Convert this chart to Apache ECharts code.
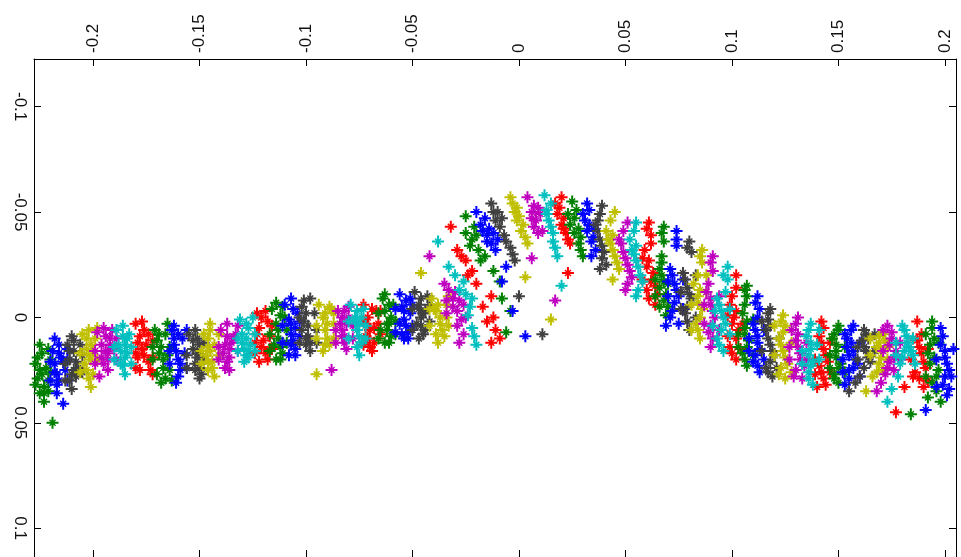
<!DOCTYPE html>
<html>
<head>
<meta charset="utf-8">
<script src="https://cdn.jsdelivr.net/npm/echarts@6/dist/echarts.min.js"></script>
<style>
  html, body { margin: 0; padding: 0; background: #fff; }
  #chart { width: 961px; height: 557px; }
</style>
</head>
<body>
<div id="chart"></div>
<script>
// axis ticks / visible range
var xTicks = [-0.2, -0.15, -0.1, -0.05, 0, 0.05, 0.1, 0.15, 0.2];
var yTicks = [-0.1, -0.05, 0, 0.05, 0.1];
var xRange = [-0.2277, 0.2052];
var yRange = [-0.1226, 0.1137];

// points, one list per colour (cluster by cluster)
var redPts = [
  [-0.180,0.003],[-0.178,0.009],[-0.177,0.015],[-0.176,0.006],[-0.174,0.021],[-0.178,0.025],[-0.173,0.025],[-0.177,0.002],[-0.175,0.013],
  [-0.176,0.018],[-0.179,0.012],[-0.174,0.008],[-0.172,0.027],[-0.179,0.019],
  [-0.180,0.017],[-0.172,0.011],[-0.172,0.019],[-0.180,0.024],
  [-0.123,-0.002],[-0.122,0.005],[-0.120,0.011],[-0.119,0.017],[-0.118,0.002],[-0.122,0.021],[-0.119,-0.003],[-0.117,0.009],
  [-0.121,0.014],[-0.118,0.020],[-0.121,0.000],[-0.117,0.015],[-0.123,0.008],
  [-0.124,0.012],[-0.116,0.004],[-0.116,0.015],[-0.124,0.017],
  [-0.073,-0.006],[-0.071,0.000],[-0.070,0.006],[-0.068,0.012],[-0.067,-0.003],[-0.070,0.014],[-0.066,0.003],[-0.072,0.009],
  [-0.069,-0.004],[-0.071,0.010],[-0.068,0.005],[-0.072,0.003],[-0.069,0.016],
  [-0.073,0.002],[-0.065,0.008],[-0.065,-0.003],[-0.073,0.013],
  [-0.032,-0.043],[-0.029,-0.032],[-0.025,-0.027],[-0.022,-0.022],[-0.020,-0.016],[-0.013,-0.010],[-0.015,0.002],[-0.011,0.006],[-0.009,0.010],[-0.027,-0.029],
  [-0.017,-0.005],[-0.012,0.000],[-0.024,-0.020],[-0.013,0.012],
  [0.020,-0.057],[0.018,-0.049],[0.020,-0.044],[0.022,-0.040],[0.024,-0.035],[0.023,-0.021],[0.017,-0.054],
  [0.019,-0.052],[0.021,-0.047],[0.023,-0.037],[0.021,-0.042],
  [0.061,-0.045],[0.062,-0.039],[0.059,-0.032],[0.061,-0.027],[0.063,-0.021],[0.060,-0.013],[0.064,-0.006],
  [0.060,-0.042],[0.062,-0.035],[0.060,-0.024],[0.062,-0.017],[0.061,-0.009],
  [0.058,-0.028],[0.064,-0.015],[0.058,-0.018],[0.065,-0.011],
  [0.102,-0.020],[0.102,-0.014],[0.099,-0.006],[0.101,0.000],[0.103,0.006],[0.099,0.014],[0.102,0.020],
  [0.100,-0.010],[0.102,-0.003],[0.100,0.003],[0.102,0.010],[0.100,0.017],
  [0.098,-0.001],[0.105,0.003],[0.098,0.009],[0.104,0.015],
  [0.143,0.005],[0.141,0.009],[0.143,0.015],[0.145,0.021],[0.142,0.026],[0.144,0.032],[0.140,0.033],
  [0.142,0.012],[0.144,0.018],[0.141,0.023],[0.143,0.029],[0.142,0.002],
  [0.139,0.020],[0.146,0.012],[0.139,0.027],[0.146,0.026],
  [0.187,0.002],[0.187,0.011],[0.189,0.017],[0.191,0.024],[0.188,0.029],[0.190,0.033],[0.177,0.045],[0.184,0.020],
  [0.188,0.014],[0.190,0.021],[0.186,0.026],[0.189,0.008],[0.181,0.033],
  [0.185,0.010],[0.192,0.015],[0.185,0.028],[0.192,0.030]
];
var greenPts = [
  [-0.227,0.022],[-0.226,0.029],[-0.225,0.025],[-0.224,0.017],[-0.223,0.033],[-0.222,0.024],[-0.221,0.015],[-0.225,0.036],[-0.223,0.040],[-0.219,0.050],[-0.227,0.032],[-0.220,0.020],[-0.225,0.013],
  [-0.224,0.027],[-0.226,0.019],[-0.221,0.030],[-0.223,0.036],
  [-0.228,0.028],[-0.220,0.026],[-0.228,0.018],[-0.221,0.035],
  [-0.171,0.006],[-0.170,0.011],[-0.169,0.017],[-0.167,0.024],[-0.166,0.008],[-0.170,0.027],[-0.166,0.029],[-0.164,0.025],[-0.165,0.003],
  [-0.168,0.014],[-0.167,0.020],[-0.169,0.008],[-0.168,0.031],[-0.165,0.018],
  [-0.172,0.020],[-0.164,0.014],[-0.172,0.014],[-0.163,0.030],
  [-0.116,-0.004],[-0.114,0.003],[-0.113,0.010],[-0.111,0.017],[-0.110,0.000],[-0.114,0.020],[-0.111,-0.005],[-0.112,0.014],
  [-0.113,0.006],[-0.112,-0.001],[-0.115,0.013],[-0.112,0.020],[-0.114,-0.007],
  [-0.117,0.008],[-0.109,0.006],[-0.117,0.016],[-0.109,0.012],
  [-0.064,-0.009],[-0.063,-0.003],[-0.062,0.003],[-0.060,0.009],[-0.059,-0.006],[-0.063,0.012],[-0.060,0.000],[-0.065,0.006],
  [-0.061,-0.006],[-0.062,0.006],[-0.061,0.012],[-0.063,-0.011],[-0.061,0.003],
  [-0.066,-0.002],[-0.058,0.002],[-0.066,0.010],[-0.058,0.008],
  [-0.025,-0.048],[-0.025,-0.040],[-0.022,-0.037],[-0.019,-0.032],[-0.016,-0.029],[-0.009,-0.017],[-0.008,-0.009],[-0.006,0.007],[-0.021,-0.043],[-0.018,-0.027],
  [-0.023,-0.034],[-0.020,-0.039],[-0.012,-0.022],[-0.004,-0.003],
  [0.025,-0.055],[0.024,-0.044],[0.026,-0.040],[0.028,-0.035],[0.030,-0.029],[0.023,-0.049],[0.028,-0.042],
  [0.026,-0.047],[0.027,-0.051],[0.029,-0.038],[0.029,-0.032],
  [0.068,-0.043],[0.068,-0.036],[0.066,-0.023],[0.068,-0.017],[0.069,-0.011],[0.066,-0.005],[0.069,-0.001],[0.067,-0.029],
  [0.067,-0.040],[0.067,-0.020],[0.066,-0.014],[0.068,-0.008],[0.067,-0.026],
  [0.064,-0.018],[0.070,-0.016],[0.064,-0.010],[0.070,-0.005],
  [0.107,-0.015],[0.107,-0.010],[0.105,-0.002],[0.106,0.005],[0.108,0.011],[0.105,0.017],[0.107,0.023],
  [0.106,-0.013],[0.106,-0.006],[0.107,0.002],[0.106,0.008],[0.107,0.014],[0.106,0.020],
  [0.103,0.008],[0.110,0.001],[0.103,0.014],[0.110,0.018],
  [0.150,0.006],[0.147,0.010],[0.149,0.016],[0.151,0.022],[0.148,0.027],[0.150,0.031],[0.149,0.013],
  [0.148,0.008],[0.149,0.019],[0.150,0.024],[0.148,0.029],[0.150,0.004],
  [0.146,0.018],[0.153,0.014],[0.146,0.024],[0.153,0.026],
  [0.194,0.002],[0.193,0.013],[0.195,0.019],[0.197,0.025],[0.194,0.031],[0.196,0.035],[0.184,0.046],[0.192,0.017],
  [0.195,0.010],[0.193,0.022],[0.196,0.028],[0.194,0.005],[0.192,0.038],
  [0.191,0.028],[0.198,0.040],[0.191,0.008],[0.197,0.012]
];
var bluePts = [
  [-0.219,0.016],[-0.218,0.022],[-0.217,0.027],[-0.216,0.013],[-0.215,0.019],[-0.213,0.025],[-0.217,0.032],[-0.217,0.036],[-0.214,0.041],[-0.212,0.015],[-0.218,0.010],
  [-0.216,0.017],[-0.218,0.026],[-0.214,0.021],[-0.216,0.030],
  [-0.220,0.021],[-0.212,0.020],[-0.220,0.030],[-0.212,0.030],
  [-0.163,0.006],[-0.162,0.013],[-0.160,0.020],[-0.159,0.025],[-0.158,0.010],[-0.161,0.031],[-0.157,0.017],[-0.162,0.004],
  [-0.160,0.008],[-0.161,0.016],[-0.159,0.022],[-0.160,0.028],[-0.162,0.010],
  [-0.164,0.016],[-0.156,0.024],[-0.164,0.022],[-0.156,0.006],
  [-0.110,-0.006],[-0.108,0.001],[-0.107,0.008],[-0.105,0.015],[-0.104,-0.002],[-0.108,0.018],[-0.107,-0.009],[-0.105,0.005],
  [-0.106,-0.004],[-0.107,0.003],[-0.106,0.011],[-0.107,0.013],[-0.105,0.018],
  [-0.111,0.004],[-0.103,0.009],[-0.111,0.012],[-0.103,0.002],
  [-0.056,-0.011],[-0.055,-0.005],[-0.054,0.001],[-0.052,0.007],[-0.051,-0.009],[-0.054,0.010],[-0.051,-0.002],[-0.056,0.003],
  [-0.053,-0.008],[-0.054,-0.003],[-0.053,0.004],[-0.055,0.008],[-0.052,0.010],
  [-0.058,-0.004],[-0.050,0.004],[-0.058,0.007],[-0.050,-0.006],
  [-0.020,-0.050],[-0.018,-0.044],[-0.015,-0.039],[-0.013,-0.035],[-0.010,-0.037],[-0.006,-0.024],[-0.008,-0.017],[-0.003,-0.003],[0.003,0.009],[-0.016,-0.047],[-0.014,-0.042],
  [-0.017,-0.041],[-0.012,-0.040],[-0.011,-0.032],[-0.015,-0.036],
  [0.032,-0.054],[0.030,-0.049],[0.033,-0.044],[0.035,-0.038],[0.036,-0.032],[0.034,-0.029],[0.032,-0.041],
  [0.031,-0.046],[0.034,-0.036],[0.033,-0.051],[0.035,-0.042],
  [0.074,-0.041],[0.074,-0.034],[0.071,-0.023],[0.073,-0.016],[0.075,-0.010],[0.072,-0.003],[0.069,0.004],[0.075,0.003],
  [0.074,-0.037],[0.072,-0.020],[0.074,-0.013],[0.073,-0.007],[0.071,0.000],
  [0.070,-0.010],[0.077,-0.018],[0.070,-0.017],[0.077,-0.004],
  [0.112,-0.010],[0.113,-0.004],[0.110,0.003],[0.112,0.009],[0.113,0.015],[0.110,0.021],[0.113,0.026],
  [0.111,-0.007],[0.112,0.000],[0.111,0.006],[0.112,0.012],[0.111,0.018],[0.112,0.023],
  [0.108,0.010],[0.115,0.006],[0.108,0.016],[0.115,0.020],
  [0.156,0.006],[0.154,0.010],[0.157,0.016],[0.159,0.022],[0.155,0.025],[0.158,0.020],[0.153,0.008],[0.155,0.029],[0.153,0.032],
  [0.156,0.012],[0.155,0.018],[0.157,0.024],[0.154,0.014],[0.157,0.004],
  [0.152,0.020],[0.160,0.012],[0.152,0.026],[0.160,0.028],
  [0.198,0.005],[0.198,0.013],[0.200,0.019],[0.202,0.025],[0.199,0.032],[0.201,0.037],[0.191,0.044],[0.204,0.015],
  [0.199,0.009],[0.200,0.016],[0.201,0.022],[0.200,0.028],[0.202,0.034],
  [0.196,0.020],[0.203,0.028],[0.196,0.033]
];
var grayPts = [
  [-0.212,0.013],[-0.211,0.020],[-0.210,0.009],[-0.209,0.016],[-0.207,0.024],[-0.210,0.027],[-0.208,0.028],[-0.210,0.034],[-0.206,0.013],
  [-0.209,0.011],[-0.211,0.016],[-0.208,0.021],[-0.209,0.025],[-0.211,0.030],
  [-0.213,0.022],[-0.205,0.018],[-0.213,0.030],[-0.205,0.026],
  [-0.155,0.008],[-0.153,0.015],[-0.152,0.022],[-0.150,0.013],[-0.149,0.027],[-0.152,0.006],[-0.151,0.017],[-0.150,0.024],
  [-0.153,0.011],[-0.151,0.019],[-0.151,0.010],[-0.152,0.025],[-0.150,0.029],
  [-0.156,0.018],[-0.148,0.012],[-0.156,0.024],[-0.148,0.020],
  [-0.102,-0.005],[-0.101,0.002],[-0.099,0.009],[-0.098,0.016],[-0.096,-0.002],[-0.100,0.013],[-0.098,-0.009],[-0.102,0.006],
  [-0.100,-0.002],[-0.099,0.004],[-0.100,0.010],[-0.098,0.012],[-0.101,-0.008],
  [-0.103,0.012],[-0.095,0.006],[-0.103,0.000],[-0.095,0.012],
  [-0.049,-0.012],[-0.047,-0.006],[-0.046,0.000],[-0.044,0.006],[-0.043,-0.010],[-0.047,0.010],[-0.044,-0.003],[-0.048,0.003],
  [-0.046,-0.009],[-0.045,-0.002],[-0.046,0.004],[-0.045,0.008],[-0.047,-0.004],
  [-0.050,-0.004],[-0.042,0.002],[-0.050,0.006],[-0.042,-0.006],
  [-0.013,-0.054],[-0.010,-0.050],[-0.009,-0.043],[-0.007,-0.039],[-0.004,-0.033],[-0.002,-0.027],[0.000,-0.010],[0.011,0.008],[-0.011,-0.046],
  [-0.012,-0.050],[-0.008,-0.047],[-0.006,-0.036],[-0.003,-0.030],
  [0.039,-0.053],[0.036,-0.044],[0.038,-0.037],[0.040,-0.031],[0.041,-0.025],[0.038,-0.023],[0.037,-0.041],
  [0.038,-0.049],[0.039,-0.034],[0.039,-0.028],[0.037,-0.046],
  [0.080,-0.036],[0.081,-0.031],[0.077,-0.021],[0.079,-0.014],[0.081,-0.009],[0.078,-0.002],[0.080,0.006],
  [0.079,-0.033],[0.078,-0.018],[0.080,-0.011],[0.079,-0.005],[0.079,0.002],
  [0.076,-0.012],[0.083,-0.020],[0.076,-0.004],[0.083,0.000],
  [0.118,-0.004],[0.117,0.001],[0.116,0.006],[0.118,0.013],[0.120,0.018],[0.116,0.024],[0.119,0.028],
  [0.117,-0.002],[0.118,0.004],[0.117,0.010],[0.119,0.016],[0.118,0.021],[0.117,0.026],
  [0.114,0.016],[0.122,0.010],[0.114,0.002],[0.121,0.024],
  [0.162,0.006],[0.161,0.011],[0.163,0.016],[0.165,0.021],[0.162,0.024],[0.155,0.035],[0.164,0.010],
  [0.163,0.008],[0.162,0.014],[0.164,0.019],[0.160,0.028],[0.158,0.031],
  [0.159,0.014],[0.167,0.016],[0.159,0.020],[0.167,0.008]
];
var yellowPts = [
  [-0.205,0.008],[-0.203,0.015],[-0.202,0.006],[-0.201,0.013],[-0.201,0.020],[-0.204,0.022],[-0.200,0.027],[-0.201,0.033],[-0.199,0.010],
  [-0.203,0.010],[-0.202,0.018],[-0.203,0.025],[-0.200,0.016],[-0.202,0.029],
  [-0.206,0.017],[-0.198,0.020],[-0.206,0.026],[-0.198,0.005],
  [-0.148,0.008],[-0.146,0.014],[-0.145,0.006],[-0.144,0.021],[-0.143,0.013],[-0.146,0.025],[-0.143,0.028],[-0.147,0.018],
  [-0.146,0.010],[-0.145,0.016],[-0.144,0.024],[-0.146,0.021],[-0.145,0.003],
  [-0.149,0.016],[-0.141,0.018],[-0.149,0.022],[-0.141,0.008],
  [-0.094,-0.006],[-0.092,0.000],[-0.091,0.006],[-0.089,0.013],[-0.088,-0.004],[-0.092,0.016],[-0.095,0.027],[-0.087,0.003],
  [-0.091,-0.002],[-0.090,0.003],[-0.090,0.010],[-0.091,0.013],[-0.089,-0.005],
  [-0.095,0.004],[-0.087,0.010],[-0.095,0.010],[-0.087,-0.002],
  [-0.041,-0.009],[-0.039,-0.003],[-0.037,0.003],[-0.035,0.009],[-0.034,-0.006],[-0.038,0.012],[-0.034,0.000],[-0.046,-0.021],
  [-0.038,-0.006],[-0.037,0.000],[-0.036,0.006],[-0.039,0.008],[-0.040,-0.004],
  [-0.042,0.004],[-0.033,0.004],[-0.042,-0.004],[-0.033,-0.010],
  [-0.004,-0.057],[-0.002,-0.050],[-0.001,-0.046],[0.001,-0.041],[0.004,-0.035],[0.003,-0.019],[0.015,0.001],[-0.003,-0.054],
  [0.000,-0.048],[-0.001,-0.052],[0.002,-0.044],[0.003,-0.038],
  [0.045,-0.050],[0.041,-0.041],[0.043,-0.035],[0.045,-0.029],[0.047,-0.023],[0.044,-0.018],[0.042,-0.037],
  [0.043,-0.046],[0.044,-0.032],[0.046,-0.026],[0.044,-0.039],
  [0.086,-0.032],[0.086,-0.026],[0.082,-0.016],[0.084,-0.010],[0.086,-0.004],[0.083,0.003],[0.085,0.010],
  [0.085,-0.029],[0.084,-0.020],[0.085,-0.013],[0.084,-0.007],[0.085,0.000],[0.084,0.006],
  [0.081,-0.006],[0.088,-0.012],[0.081,0.006],[0.088,-0.020],
  [0.124,-0.001],[0.125,0.004],[0.122,0.010],[0.124,0.016],[0.126,0.022],[0.122,0.027],[0.125,0.029],
  [0.123,0.002],[0.124,0.007],[0.123,0.013],[0.125,0.019],[0.123,0.024],
  [0.120,0.018],[0.128,0.012],[0.120,0.004],[0.128,0.026],
  [0.169,0.009],[0.168,0.014],[0.170,0.019],[0.171,0.025],[0.168,0.026],[0.163,0.035],[0.172,0.011],
  [0.169,0.012],[0.170,0.016],[0.169,0.022],[0.166,0.028],[0.171,0.008],
  [0.165,0.018],[0.173,0.020],[0.165,0.010],[0.173,0.014]
];
var magentaPts = [
  [-0.198,0.007],[-0.196,0.013],[-0.195,0.005],[-0.193,0.017],[-0.192,0.010],[-0.195,0.022],[-0.191,0.006],[-0.193,0.025],[-0.197,0.028],[-0.190,0.015],
  [-0.194,0.009],[-0.194,0.016],[-0.193,0.020],[-0.196,0.019],[-0.192,0.013],
  [-0.199,0.016],[-0.189,0.010],[-0.199,0.022],[-0.189,0.020],
  [-0.140,0.006],[-0.138,0.013],[-0.137,0.003],[-0.136,0.019],[-0.134,0.010],[-0.138,0.024],[-0.136,0.025],[-0.133,0.008],
  [-0.137,0.009],[-0.136,0.015],[-0.137,0.021],[-0.135,0.012],[-0.139,0.017],
  [-0.141,0.014],[-0.132,0.016],[-0.141,0.020],[-0.132,0.004],
  [-0.085,-0.003],[-0.084,0.003],[-0.082,0.009],[-0.081,0.015],[-0.080,0.000],[-0.088,0.025],[-0.083,0.006],[-0.080,-0.005],
  [-0.083,0.000],[-0.082,0.012],[-0.081,0.003],[-0.083,0.009],[-0.082,-0.003],
  [-0.086,0.006],[-0.078,0.004],[-0.086,0.012],[-0.078,0.010],
  [-0.033,-0.013],[-0.031,-0.009],[-0.029,-0.003],[-0.027,0.001],[-0.028,0.012],[-0.042,-0.029],[-0.026,-0.006],[-0.035,-0.016],
  [-0.030,-0.012],[-0.031,-0.005],[-0.028,-0.008],[-0.029,0.004],
  [-0.034,-0.008],[-0.025,0.000],[-0.034,-0.002],[-0.026,0.008],
  [0.004,-0.057],[0.006,-0.050],[0.008,-0.046],[0.011,-0.041],[0.006,-0.028],[0.017,-0.008],[0.010,-0.049],[0.007,-0.043],
  [0.007,-0.053],[0.009,-0.040],[0.009,-0.052],[0.006,-0.047],
  [0.051,-0.045],[0.047,-0.037],[0.049,-0.031],[0.051,-0.025],[0.053,-0.019],[0.050,-0.013],[0.048,-0.035],
  [0.049,-0.041],[0.050,-0.028],[0.052,-0.022],[0.051,-0.016],
  [0.091,-0.029],[0.091,-0.022],[0.088,-0.012],[0.090,-0.006],[0.092,0.000],[0.089,0.007],[0.090,0.014],
  [0.090,-0.026],[0.089,-0.016],[0.090,-0.009],[0.091,-0.003],[0.090,0.004],[0.091,0.010],
  [0.087,-0.006],[0.094,-0.010],[0.087,0.003],[0.094,0.006],
  [0.131,0.000],[0.128,0.006],[0.130,0.011],[0.132,0.017],[0.134,0.023],[0.129,0.028],[0.133,0.029],
  [0.130,0.003],[0.131,0.008],[0.131,0.014],[0.132,0.020],[0.130,0.025],
  [0.127,0.014],[0.135,0.012],[0.127,0.020],[0.135,0.020],
  [0.173,0.004],[0.175,0.010],[0.177,0.016],[0.174,0.021],[0.176,0.025],[0.168,0.035],[0.172,0.027],
  [0.175,0.007],[0.174,0.013],[0.176,0.019],[0.173,0.024],[0.170,0.031],
  [0.171,0.016],[0.179,0.012],[0.171,0.006],[0.179,0.020]
];
var cyanPts = [
  [-0.189,0.006],[-0.188,0.013],[-0.186,0.004],[-0.185,0.019],[-0.184,0.010],[-0.187,0.022],[-0.185,0.027],[-0.183,0.008],
  [-0.186,0.009],[-0.187,0.016],[-0.185,0.013],[-0.186,0.023],[-0.184,0.017],
  [-0.190,0.014],[-0.182,0.014],[-0.190,0.020],[-0.182,0.022],
  [-0.131,0.001],[-0.130,0.008],[-0.129,0.015],[-0.127,0.005],[-0.126,0.013],[-0.129,0.021],[-0.125,0.000],[-0.128,0.018],
  [-0.128,0.003],[-0.128,0.010],[-0.127,0.016],[-0.130,0.012],[-0.127,0.019],
  [-0.132,0.010],[-0.124,0.008],[-0.132,0.016],[-0.124,0.016],
  [-0.079,-0.006],[-0.077,0.000],[-0.076,0.006],[-0.074,0.012],[-0.073,-0.004],[-0.075,0.018],[-0.077,0.002],
  [-0.076,-0.003],[-0.075,0.003],[-0.075,0.009],[-0.076,0.014],[-0.074,0.000],
  [-0.080,0.002],[-0.072,0.004],[-0.080,0.010],[-0.072,0.010],
  [-0.038,-0.036],[-0.033,-0.024],[-0.026,-0.017],[-0.025,-0.011],[-0.023,-0.005],[-0.020,0.013],[-0.028,-0.013],[-0.022,-0.009],
  [-0.030,-0.020],[-0.024,-0.001],[-0.022,0.005],[-0.021,0.009],
  [0.012,-0.058],[0.013,-0.051],[0.014,-0.046],[0.016,-0.040],[0.017,-0.033],[0.020,-0.015],[0.013,-0.049],
  [0.015,-0.043],[0.015,-0.054],[0.016,-0.036],[0.018,-0.029],
  [0.055,-0.045],[0.052,-0.037],[0.054,-0.030],[0.056,-0.024],[0.058,-0.017],[0.055,-0.010],[0.053,-0.032],
  [0.054,-0.041],[0.055,-0.034],[0.055,-0.027],[0.057,-0.020],[0.056,-0.013],
  [0.098,-0.024],[0.098,-0.018],[0.093,-0.009],[0.095,-0.003],[0.097,0.003],[0.093,0.010],[0.096,0.016],
  [0.096,-0.020],[0.094,-0.006],[0.096,0.000],[0.095,0.006],[0.094,0.013],[0.097,-0.012],
  [0.091,0.004],[0.099,-0.004],[0.092,-0.003],[0.099,0.008],
  [0.137,0.003],[0.135,0.009],[0.137,0.015],[0.138,0.021],[0.136,0.026],[0.138,0.032],[0.140,0.013],
  [0.136,0.006],[0.137,0.012],[0.136,0.018],[0.137,0.023],[0.136,0.029],
  [0.133,0.016],[0.141,0.020],[0.133,0.022],[0.141,0.006],
  [0.180,0.004],[0.182,0.009],[0.183,0.014],[0.185,0.018],[0.181,0.016],[0.175,0.034],[0.173,0.040],[0.179,0.022],
  [0.181,0.006],[0.182,0.012],[0.184,0.016],[0.180,0.019],[0.178,0.028],
  [0.177,0.012],[0.185,0.010],[0.177,0.018],[0.186,0.022]
];

// asterisk marker: plus with long arms + shorter diagonal cross
var starPath = 'path://M10 0L14 0L14 24L10 24Z' +
  'M0 10L24 10L24 14L0 14Z' +
  'M5 7L7 5L19 17L17 19Z' +
  'M17 5L19 7L7 19L5 17Z';

var groups = [
  { name: 'r', color: '#ff0000', data: redPts },
  { name: 'g', color: '#008000', data: greenPts },
  { name: 'b', color: '#0000ff', data: bluePts },
  { name: 'k', color: '#404040', data: grayPts },
  { name: 'y', color: '#bfbf00', data: yellowPts },
  { name: 'm', color: '#bf00bf', data: magentaPts },
  { name: 'c', color: '#00bfbf', data: cyanPts }
];

var labelFont = { fontFamily: 'Liberation Sans', fontSize: 17, color: '#111' };
var lineStyle = { color: '#000', width: 1 };

var chart = echarts.init(document.getElementById('chart'));
chart.setOption({
  animation: false,
  backgroundColor: '#fff',
  grid: { left: 34, top: 59, width: 922, height: 499 },
  xAxis: [
    {
      type: 'value', position: 'top', min: xRange[0], max: xRange[1],
      axisLine: { show: true, onZero: false, lineStyle: lineStyle },
      axisTick: { show: true, inside: true, length: 7, customValues: xTicks, lineStyle: lineStyle },
      axisLabel: Object.assign({ customValues: xTicks, rotate: -90, margin: 6 }, labelFont),
      splitLine: { show: false }
    },
    {
      type: 'value', position: 'bottom', min: xRange[0], max: xRange[1],
      axisLine: { show: true, onZero: false, lineStyle: lineStyle },
      axisTick: { show: true, inside: true, length: 7, customValues: xTicks, lineStyle: lineStyle },
      axisLabel: { show: false },
      splitLine: { show: false }
    }
  ],
  yAxis: [
    {
      type: 'value', position: 'left', inverse: true, min: yRange[0], max: yRange[1],
      axisLine: { show: true, onZero: false, lineStyle: lineStyle },
      axisTick: { show: true, inside: true, length: 7, customValues: yTicks, lineStyle: lineStyle },
      axisLabel: Object.assign({ customValues: yTicks, rotate: -90, margin: 6 }, labelFont),
      splitLine: { show: false }
    },
    {
      type: 'value', position: 'right', inverse: true, min: yRange[0], max: yRange[1],
      axisLine: { show: true, onZero: false, lineStyle: lineStyle },
      axisTick: { show: true, inside: true, length: 7, customValues: yTicks, lineStyle: lineStyle },
      axisLabel: { show: false },
      splitLine: { show: false }
    }
  ],
  series: groups.map(function (g) {
    return {
      name: g.name,
      type: 'scatter',
      xAxisIndex: 0,
      yAxisIndex: 0,
      symbol: starPath,
      symbolSize: 12,
      itemStyle: { color: g.color, opacity: 1 },
      emphasis: { disabled: true },
      data: g.data
    };
  })
});
</script>
</body>
</html>
